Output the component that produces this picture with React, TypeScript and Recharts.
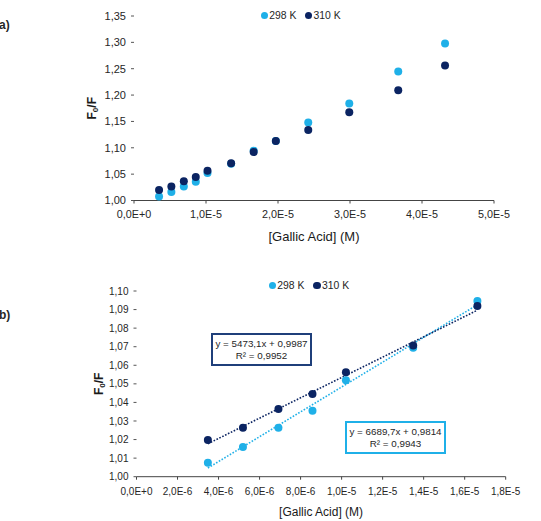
import { ReferenceLine, Scatter, ScatterChart, XAxis, YAxis } from "recharts";

// Gallic acid concentration (M) and Stern-Volmer ratios F0/F at each temperature
const concentration = [
  3.48e-6, 5.19e-6, 6.92e-6, 8.58e-6, 1.021e-5, 1.349e-5, 1.662e-5,
  1.97e-5, 2.42e-5, 2.99e-5, 3.67e-5, 4.32e-5,
];
const ratio298 = [
  1.0075, 1.016, 1.0264, 1.0355, 1.052, 1.0695, 1.0946,
  1.113, 1.1479, 1.1839, 1.2446, 1.2977,
];
const ratio310 = [
  1.0198, 1.0264, 1.0365, 1.0445, 1.0562, 1.0707, 1.0919,
  1.113, 1.1339, 1.1674, 1.2091, 1.256,
];

// the linear fit in panel b uses the first seven points
const LINEAR_POINTS = 7;

// linear fits: slope, intercept, R²
const fit298 = [6689.7, 0.9814, 0.9943];
const fit310 = [5473.1, 0.9987, 0.9952];

const ticksYFull = [1, 1.05, 1.1, 1.15, 1.2, 1.25, 1.3, 1.35];
const ticksXFull = [0, 1e-5, 2e-5, 3e-5, 4e-5, 5e-5];
const ticksYLinear = [1, 1.01, 1.02, 1.03, 1.04, 1.05, 1.06, 1.07, 1.08, 1.09, 1.1];
const ticksXLinear = [0, 2e-6, 4e-6, 6e-6, 8e-6, 1e-5, 1.2e-5, 1.4e-5, 1.6e-5, 1.8e-5];

const LIGHT = "#1fb0e8";
const NAVY = "#0b2462";
const INK = "#262626";
const FONT = "'Liberation Sans', Arial, sans-serif";

const SERIES = [
  { name: "298 K", color: LIGHT },
  { name: "310 K", color: NAVY },
];

const toPoints = (ys: number[], n = ys.length) =>
  ys.slice(0, n).map((y, i) => ({ x: concentration[i], y }));

const decimal = (v: number) => v.toFixed(2).replace(".", ",");

const sci = (v: number) => {
  if (v === 0) return "0,0E+0";
  const exp = Math.floor(Math.log10(Math.abs(v)) + 1e-9);
  const mant = v / Math.pow(10, exp);
  return `${mant.toFixed(1).replace(".", ",")}E${exp < 0 ? "-" : "+"}${Math.abs(exp)}`;
};

const fmtFit = (f: number[]) => [
  `y = ${f[0].toFixed(1).replace(".", ",")}x + ${f[1].toFixed(4).replace(".", ",")}`,
  `R² = ${f[2].toFixed(4).replace(".", ",")}`,
];

const dot = (color: string) => (p: any) =>
  <circle cx={p.cx} cy={p.cy} r={4} fill={color} />;

function RatioTitle({ viewBox, cx }: any) {
  const vb = viewBox || { y: 0, height: 0 };
  const y = vb.y + vb.height / 2;
  return (
    <text
      transform={`translate(${cx},${y}) rotate(-90)`}
      textAnchor="middle"
      dominantBaseline="central"
      fontFamily={FONT}
      fontWeight="bold"
      fontSize={12}
      fill="#1a1a1a"
    >
      F<tspan fontSize={8} dy={3}>0</tspan>
      <tspan dy={-3}>/F</tspan>
    </text>
  );
}

function SeriesKey({ left, top, gap }: { left: number; top: number; gap: number }) {
  return (
    <div
      style={{
        position: "absolute",
        left,
        top,
        display: "flex",
        alignItems: "center",
        fontSize: 10.4,
        color: INK,
        lineHeight: "12px",
        whiteSpace: "nowrap",
      }}
    >
      {SERIES.map((s, i) => (
        <span key={s.name} style={{ display: "flex", alignItems: "center", marginLeft: i ? gap : 0 }}>
          <span
            style={{
              width: 7.5,
              height: 7.5,
              borderRadius: "50%",
              background: s.color,
              marginRight: 1,
            }}
          />
          {s.name}
        </span>
      ))}
    </div>
  );
}

function FitBox({ fit, color, left, top, width, height }: any) {
  const [eq, r2] = fmtFit(fit);
  return (
    <div
      style={{
        position: "absolute",
        left,
        top,
        width,
        height,
        boxSizing: "border-box",
        border: `2px solid ${color}`,
        background: "#fff",
        fontSize: 9.8,
        color: INK,
        lineHeight: "12.5px",
        textAlign: "center",
        paddingTop: 2.5,
        whiteSpace: "nowrap",
      }}
    >
      <div>{eq}</div>
      <div>{r2}</div>
    </div>
  );
}

function PanelLetter({ text, top }: { text: string; top: number }) {
  return (
    <div style={{ position: "absolute", left: -1, top, fontSize: 12, fontWeight: "bold", color: INK }}>
      {text}
    </div>
  );
}

export default function App() {
  const x0 = concentration[0];
  const x1 = concentration[LINEAR_POINTS - 1];
  const line = (f: number[]) => [
    { x: x0, y: f[0] * x0 + f[1] },
    { x: x1, y: f[0] * x1 + f[1] },
  ];

  return (
    <div
      style={{
        position: "absolute",
        left: 0,
        top: 0,
        width: 541,
        height: 521,
        background: "#fff",
        fontFamily: FONT,
        overflow: "hidden",
      }}
    >
      {/* a) full concentration range */}
      <div style={{ position: "absolute", left: 0, top: 0 }}>
        <ScatterChart width={541} height={255} margin={{ top: 16, right: 47, left: 0, bottom: 0 }}>
          <XAxis
            type="number"
            dataKey="x"
            domain={[0, 5e-5]}
            ticks={ticksXFull}
            tickFormatter={sci}
            height={54.5}
            tick={{ fontSize: 10.8, fill: INK, fontFamily: FONT }}
            tickSize={3}
            tickMargin={7}
            stroke="#444"
            label={{
              value: "[Gallic Acid] (M)",
              position: "insideBottom",
              offset: 14,
              fontSize: 13,
              fill: "#1a1a1a",
              fontFamily: FONT,
            }}
          />
          <YAxis
            type="number"
            dataKey="y"
            domain={[1, 1.35]}
            ticks={ticksYFull}
            tickFormatter={decimal}
            width={134}
            axisLine={false}
            tick={{ fontSize: 11, fill: INK, fontFamily: FONT }}
            tickSize={3}
            tickMargin={5}
            stroke="#555"
            label={<RatioTitle cx={92} />}
          />
          <Scatter data={toPoints(ratio298)} shape={dot(LIGHT)} isAnimationActive={false} />
          <Scatter data={toPoints(ratio310)} shape={dot(NAVY)} isAnimationActive={false} />
        </ScatterChart>
      </div>
      <PanelLetter text="a)" top={18} />
      <SeriesKey left={260.8} top={9.7} gap={8.5} />

      {/* b) linear region with fitted lines */}
      <div style={{ position: "absolute", left: 0, top: 260 }}>
        <ScatterChart width={541} height={261} margin={{ top: 31, right: 35.3, left: 0, bottom: 0 }}>
          <XAxis
            type="number"
            dataKey="x"
            domain={[0, 1.8e-5]}
            ticks={ticksXLinear}
            tickFormatter={sci}
            height={44.3}
            tick={{ fontSize: 10, fill: INK, fontFamily: FONT }}
            tickSize={3}
            tickMargin={8}
            stroke="#444"
            label={{
              value: "[Gallic Acid] (M)",
              position: "insideBottom",
              offset: 5,
              fontSize: 12,
              fill: "#1a1a1a",
              fontFamily: FONT,
            }}
          />
          <YAxis
            type="number"
            dataKey="y"
            domain={[1, 1.1]}
            ticks={ticksYLinear}
            tickFormatter={decimal}
            width={136.5}
            axisLine={false}
            tick={{ fontSize: 10, fill: INK, fontFamily: FONT }}
            tickSize={3}
            tickMargin={5}
            stroke="#555"
            label={<RatioTitle cx={98.5} />}
          />
          <Scatter data={toPoints(ratio298, LINEAR_POINTS)} shape={dot(LIGHT)} isAnimationActive={false} />
          <Scatter data={toPoints(ratio310, LINEAR_POINTS)} shape={dot(NAVY)} isAnimationActive={false} />
          <ReferenceLine segment={line(fit298)} stroke={LIGHT} strokeWidth={1.6} strokeDasharray="1.6 1.6" />
          <ReferenceLine segment={line(fit310)} stroke={NAVY} strokeWidth={1.6} strokeDasharray="1.6 1.6" />
        </ScatterChart>
      </div>
      <PanelLetter text="b)" top={308} />
      <SeriesKey left={268.8} top={279.7} gap={9} />
      <FitBox fit={fit310} color="#1f3f7a" left={211} top={333} width={101} height={33} />
      <FitBox fit={fit298} color={LIGHT} left={345} top={421} width={101} height={32.5} />
    </div>
  );
}
